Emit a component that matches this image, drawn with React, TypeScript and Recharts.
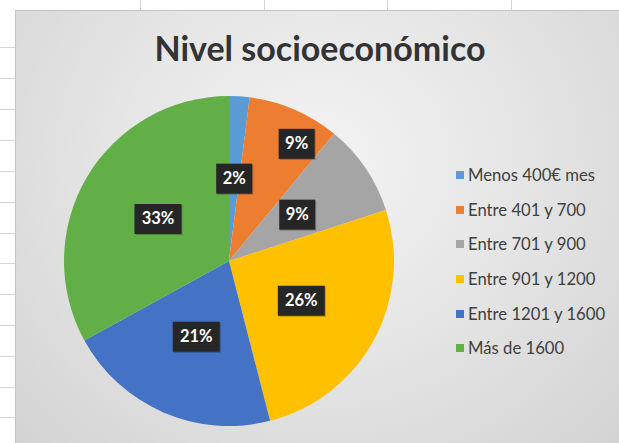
import React from 'react';
import { Cell, Legend, Pie, PieChart } from 'recharts';

const categorias = [
  'Menos 400€ mes',
  'Entre 401 y 700',
  'Entre 701 y 900',
  'Entre 901 y 1200',
  'Entre 1201 y 1600',
  'Más de 1600',
];
const porcentajes = [2, 9, 9, 26, 21, 33];
const colores = ['#5B9BD5', '#ED7D31', '#A5A5A5', '#FFC000', '#4472C4', '#62AF48'];

const FONT = 'Lato, "Open Sans", sans-serif';
const RAD = Math.PI / 180;

// Excel "best fit" pushes the small orange label outwards
const labelRadius = (i: number) => (i === 1 ? 0.82 : 0.5);
const labelShift = (i: number) => (i === 1 ? -6.6 : 0);

function EtiquetaDato(props: any) {
  const { cx, cy, midAngle, outerRadius, index, value } = props;
  const a = (midAngle + labelShift(index)) * RAD;
  const r = outerRadius * labelRadius(index);
  const x = cx + r * Math.cos(-a);
  const y = cy + r * Math.sin(-a);
  const txt = `${value}%`;
  const w = txt.length * 11 + 14;
  const h = 30;
  return (
    <g>
      <rect x={x - w / 2 + 1} y={y - h / 2 + 1} width={w} height={h} fill="rgba(0,0,0,0.25)" />
      <rect x={x - w / 2} y={y - h / 2} width={w} height={h} fill="#262626" />
      <text x={x} y={y + 1} fill="#fff" fontFamily={FONT} fontWeight={700} fontSize={16.5}
        textAnchor="middle" dominantBaseline="middle">{txt}</text>
    </g>
  );
}

function Leyenda() {
  return (
    <div style={{ fontFamily: FONT, fontSize: 16.7, color: '#404040' }}>
      {categorias.map((c, i) => (
        <div key={c} style={{ display: 'flex', alignItems: 'center', height: 34.6 }}>
          <span style={{ width: 8, height: 8, background: colores[i], marginRight: 4, display: 'inline-block' }} />
          <span>{c}</span>
        </div>
      ))}
    </div>
  );
}

const filas = [47, 78, 109, 140, 171, 202, 233, 263, 294, 325, 356, 387, 417];
const columnas = [140, 264, 387, 511];

export default function App() {
  const data = categorias.map((name, i) => ({ name, value: porcentajes[i] }));
  return (
    <div style={{ position: 'absolute', left: 0, top: 0, width: 619, height: 443, overflow: 'hidden', background: '#fff' }}>
      {columnas.map(x => (
        <div key={x} style={{ position: 'absolute', left: x, top: 0, width: 1, height: 10, background: '#d4d4d4' }} />
      ))}
      {filas.map(y => (
        <div key={y} style={{ position: 'absolute', left: 0, top: y, width: 15, height: 1, background: '#d4d4d4' }} />
      ))}
      <div style={{
        position: 'absolute', left: 15, top: 10, width: 604, height: 433,
        borderTop: '1px solid #c4c4c4', borderLeft: '1px solid #c4c4c4',
        background: 'radial-gradient(ellipse at 50% 35%, #f3f3f3 0%, #e6e6e6 45%, #d3d3d3 100%)',
      }} />
      <div style={{
        position: 'absolute', left: 0, top: 27, width: 640, textAlign: 'center',
        fontFamily: FONT, fontWeight: 700, fontSize: 34, color: '#333',
      }}>Nivel socioeconómico</div>
      <div style={{ position: 'absolute', left: 0, top: 0 }}>
        <PieChart width={619} height={443} margin={{ top: 0, right: 0, bottom: 0, left: 0 }}>
          <Pie
            data={data}
            dataKey="value"
            nameKey="name"
            cx={229}
            cy={261}
            outerRadius={165}
            startAngle={90}
            endAngle={-270}
            stroke="none"
            label={EtiquetaDato}
            labelLine={false}
            isAnimationActive={false}
          >
            {data.map((d, i) => <Cell key={d.name} fill={colores[i]} />)}
          </Pie>
          <Legend
            content={() => <Leyenda />}
            wrapperStyle={{ position: 'absolute', left: 456, top: 158, width: 170 }}
          />
        </PieChart>
      </div>
    </div>
  );
}
